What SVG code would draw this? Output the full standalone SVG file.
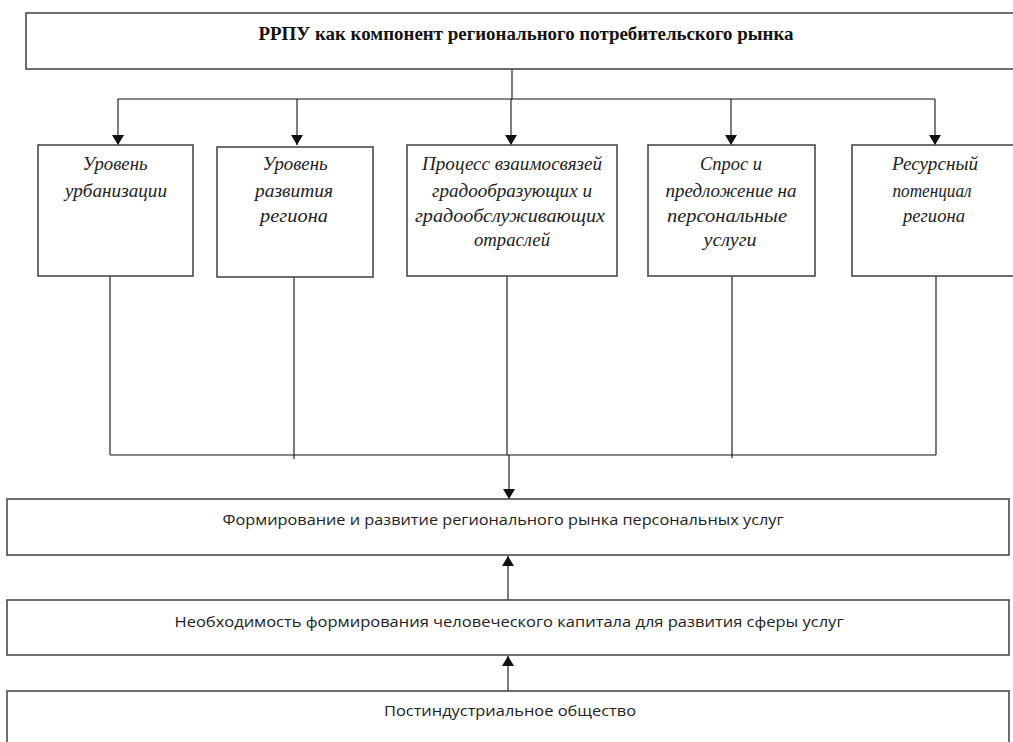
<svg xmlns="http://www.w3.org/2000/svg" width="1013" height="742" viewBox="0 0 1013 742">
<style>
.box{fill:#fff;stroke:#4a4a4a;stroke-width:1.6}
.ln{fill:none;stroke:#111;stroke-width:1.1}
.ttl{font-family:"Liberation Serif",serif;font-weight:bold;font-size:18px;fill:#111;text-anchor:middle}
.it{font-family:"Liberation Serif",serif;font-style:italic;font-size:18px;fill:#222;text-anchor:middle}
.sn{font-family:"Open Sans","Liberation Sans",sans-serif;font-size:14px;fill:#222;text-anchor:middle}
</style>
<defs>
<marker id="ah" viewBox="0 0 10 12" refX="10" refY="6" markerWidth="10" markerHeight="12" markerUnits="userSpaceOnUse" orient="auto">
<path d="M0,0 L10,6 L0,12 Z" fill="#111"/>
</marker>
</defs>
<rect width="1013" height="742" fill="#fff"/>

<g id="connectors">
<path class="ln" d="M512,69 V99 M118,99 H935"/>
<path class="ln" d="M118,99 V145" marker-end="url(#ah)"/>
<path class="ln" d="M297,99 V145" marker-end="url(#ah)"/>
<path class="ln" d="M511,99 V145" marker-end="url(#ah)"/>
<path class="ln" d="M731,99 V145" marker-end="url(#ah)"/>
<path class="ln" d="M935,99 V145" marker-end="url(#ah)"/>
<path class="ln" d="M110,276 V455 M294,277 V459 M507,276 V455 M732,276 V458 M936,276 V455 M110,455 H936"/>
<path class="ln" d="M509,455 V499" marker-end="url(#ah)"/>
<path class="ln" d="M508,600 V556" marker-end="url(#ah)"/>
<path class="ln" d="M508,691 V656" marker-end="url(#ah)"/>
</g>

<g id="node-top">
<rect class="box" x="26" y="13" width="1000" height="56"/>
<text class="ttl" x="526" y="40" textLength="535" lengthAdjust="spacingAndGlyphs">РРПУ как компонент регионального потребительского рынка</text>
</g>

<g id="node-urban">
<rect class="box" x="38" y="145" width="155" height="131"/>
<text class="it" x="115" y="170" textLength="65" lengthAdjust="spacingAndGlyphs">Уровень</text>
<text class="it" x="116" y="197" textLength="102" lengthAdjust="spacingAndGlyphs">урбанизации</text>
</g>

<g id="node-develop">
<rect class="box" x="217" y="147" width="156" height="130"/>
<text class="it" x="295" y="170" textLength="65" lengthAdjust="spacingAndGlyphs">Уровень</text>
<text class="it" x="294" y="197" textLength="78" lengthAdjust="spacingAndGlyphs">развития</text>
<text class="it" x="294" y="222" textLength="68" lengthAdjust="spacingAndGlyphs">региона</text>
</g>

<g id="node-process">
<rect class="box" x="407" y="145" width="210" height="131"/>
<text class="it" x="512" y="170" textLength="180" lengthAdjust="spacingAndGlyphs">Процесс взаимосвязей</text>
<text class="it" x="512" y="197" textLength="160" lengthAdjust="spacingAndGlyphs">градообразующих и</text>
<text class="it" x="510" y="222" textLength="190" lengthAdjust="spacingAndGlyphs">градообслуживающих</text>
<text class="it" x="512" y="246" textLength="76" lengthAdjust="spacingAndGlyphs">отраслей</text>
</g>

<g id="node-demand">
<rect class="box" x="648" y="145" width="167" height="131"/>
<text class="it" x="731" y="170" textLength="62" lengthAdjust="spacingAndGlyphs">Спрос и</text>
<text class="it" x="731" y="197" textLength="131" lengthAdjust="spacingAndGlyphs">предложение на</text>
<text class="it" x="727" y="222" textLength="120" lengthAdjust="spacingAndGlyphs">персональные</text>
<text class="it" x="730" y="246" textLength="53" lengthAdjust="spacingAndGlyphs">услуги</text>
</g>

<g id="node-resource">
<rect class="box" x="852" y="145" width="180" height="131"/>
<text class="it" x="935" y="170" textLength="86" lengthAdjust="spacingAndGlyphs">Ресурсный</text>
<text class="it" x="932" y="197" textLength="79" lengthAdjust="spacingAndGlyphs">потенциал</text>
<text class="it" x="934" y="222" textLength="62" lengthAdjust="spacingAndGlyphs">региона</text>
</g>

<g id="node-forming">
<rect class="box" x="7" y="499" width="1002" height="56"/>
<text class="sn" x="503" y="525" textLength="561" lengthAdjust="spacingAndGlyphs">Формирование и развитие регионального рынка персональных услуг</text>
</g>

<g id="node-capital">
<rect class="box" x="7" y="600" width="1002" height="55"/>
<text class="sn" x="509" y="627" textLength="669" lengthAdjust="spacingAndGlyphs">Необходимость формирования человеческого капитала для развития сферы услуг</text>
</g>

<g id="node-postind">
<rect class="box" x="7" y="691" width="1002" height="70"/>
<text class="sn" x="510" y="716" textLength="252" lengthAdjust="spacingAndGlyphs">Постиндустриальное общество</text>
</g>
</svg>
